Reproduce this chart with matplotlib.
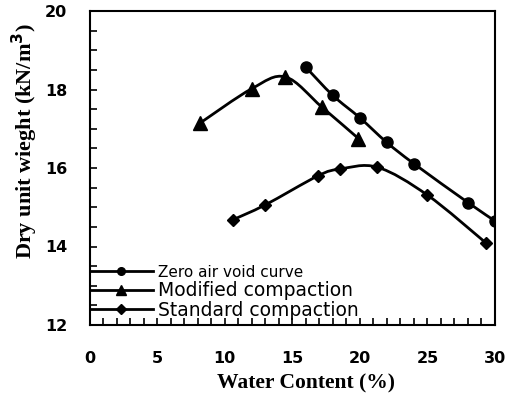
import matplotlib
matplotlib.use("Agg")
import matplotlib.pyplot as plt
from matplotlib.path import Path
from matplotlib.patches import PathPatch
from matplotlib.lines import Line2D
from matplotlib.ticker import MultipleLocator
import numpy as np

zav_x = [16, 18, 20, 22, 24, 28, 30]
zav_y = [18.57, 17.85, 17.28, 16.65, 16.11, 15.12, 14.65]
mod_x = [8.2, 12.0, 14.5, 17.2, 19.9]
mod_y = [17.15, 18.02, 18.32, 17.55, 16.75]
std_x = [10.6, 13.0, 16.9, 18.5, 21.3, 25.0, 29.3]
std_y = [14.68, 15.06, 15.80, 15.97, 16.02, 15.31, 14.10]
labels = ["Zero air void curve", "Modified compaction", "Standard compaction"]
xticks = [0, 5, 10, 15, 20, 25, 30]
yticks = [12, 14, 16, 18, 20]

fig = plt.figure(figsize=(5.07, 3.96), dpi=100)
ax = fig.add_axes([89.5/507, 71/396, (495-89.5)/507, (325-11)/396])


def smooth_path(xs, ys):
    P = np.column_stack([xs, ys]).astype(float)
    n = len(P)
    verts = [P[0]]
    codes = [Path.MOVETO]
    for i in range(n - 1):
        p0 = P[i - 1] if i > 0 else P[i]
        p1 = P[i]
        p2 = P[i + 1]
        p3 = P[i + 2] if i + 2 < n else P[i + 1]
        c1 = p1 + (p2 - p0) / 6.0
        c2 = p2 - (p3 - p1) / 6.0
        verts += [c1, c2, p2]
        codes += [Path.CURVE4] * 3
    return Path(verts, codes)


series = [(zav_x, zav_y, 'o', 8, 5.5), (mod_x, mod_y, '^', 9.5, 6.5), (std_x, std_y, 'D', 6.5, 5)]
handles = []
for (xs, ys, m, ms, lms), lab in zip(series, labels):
    patch = PathPatch(smooth_path(xs, ys), facecolor='none', edgecolor='black',
                      lw=2.0, transform=ax.transData, zorder=2)
    ax.add_patch(patch)
    ax.plot(xs, ys, linestyle='none', marker=m, ms=ms, color='black', zorder=3)
    handles.append(Line2D([], [], color='black', lw=2.0, marker=m, ms=lms))

ax.set_xlim(0, 30)
ax.set_ylim(12, 20)
ax.set_xticks(xticks)
ax.set_yticks(yticks)
ax.xaxis.set_minor_locator(MultipleLocator(1))
ax.yaxis.set_minor_locator(MultipleLocator(0.5))
ax.tick_params(which='both', direction='in', top=False, right=False)
ax.tick_params(which='major', length=5, width=1.2)
ax.tick_params(which='minor', length=5, width=1.2)
ax.tick_params(axis='x', pad=19)
ax.tick_params(axis='y', pad=16)
for sp in ax.spines.values():
    sp.set_linewidth(1.5)

for t in ax.get_xticklabels() + ax.get_yticklabels():
    t.set_fontfamily('DejaVu Sans')
    t.set_fontweight('bold')
    t.set_fontsize(11.5)

ax.set_xlabel("Water Content (%)", fontfamily='Liberation Serif', fontweight='bold', fontsize=15.5)
ax.set_ylabel("Dry unit wieght (kN/m$^\\mathbf{3}$)", fontfamily='Liberation Serif', fontweight='bold', fontsize=16)
ax.xaxis.set_label_coords((306-89.5)/(495-89.5), -(373-325)/314)
ax.yaxis.set_label_coords(-(89.5-25)/405.5, (325-141)/314)
ax.yaxis.label.set_va('center')

leg = ax.legend(handles, labels, loc='center left', bbox_to_anchor=(0.0, (325-292)/314),
                frameon=False, handlelength=3.4, handletextpad=0.25,
                labelspacing=0.05, borderaxespad=0.0, borderpad=0.0,
                prop={'family': 'DejaVu Sans', 'size': 13.5})
leg.get_texts()[0].set_fontsize(11)

fig.savefig("out.png", dpi=100)
